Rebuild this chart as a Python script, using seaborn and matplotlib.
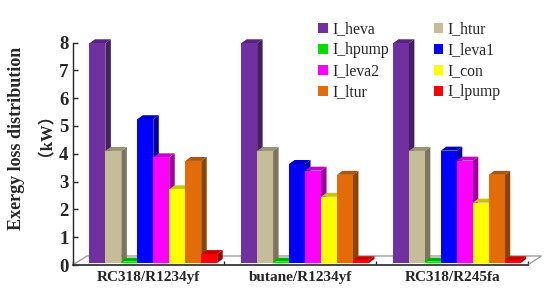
# plot.py
# exergy loss distribution, pseudo-3D grouped bars
import pandas as pd
import numpy as np
import matplotlib
matplotlib.use('Agg')
import matplotlib.pyplot as plt
import seaborn as sns
from matplotlib.patches import Polygon, Patch
from matplotlib.transforms import Affine2D, IdentityTransform

cases = ['RC318/R1234yf', 'butane/R1234yf', 'RC318/R245fa']
series = ['I_heva', 'I_htur', 'I_hpump', 'I_leva1', 'I_leva2', 'I_con', 'I_ltur', 'I_lpump']
colors = ['#7030A0', '#C4BD97', '#00E000', '#0000FF', '#FF00FF', '#FFFF00', '#E36C09', '#FF0000']

i_heva = [7.90, 7.90, 7.90]
i_htur = [4.03, 4.03, 4.03]
i_hpump = [0.05, 0.05, 0.05]
i_leva1 = [5.17, 3.56, 4.04]
i_leva2 = [3.80, 3.32, 3.68]
i_con = [2.65, 2.38, 2.17]
i_ltur = [3.67, 3.17, 3.17]
i_lpump = [0.32, 0.10, 0.10]

yticks = [0, 1, 2, 3, 4, 5, 6, 7, 8]

W, H = 550, 291
DX, DY = 5.5, 4.0   # depth of the bars, px

sns.set_style('white')
plt.rcParams['font.family'] = ['Liberation Serif', 'Noto Sans CJK SC']

rows = []
for name, vals in zip(series, [i_heva, i_htur, i_hpump, i_leva1, i_leva2, i_con, i_ltur, i_lpump]):
    for c, v in zip(cases, vals):
        rows.append({'case': c, 'series': name, 'value': v})
df = pd.DataFrame(rows)

fig = plt.figure(figsize=(W / 100, H / 100), dpi=100)
ax = fig.add_axes([72.7 / W, 1 - 265 / H, (528 - 72.7) / W, (265 - 42.5) / H])

sns.barplot(data=df, x='case', y='value', hue='series', order=cases, hue_order=series,
            palette=colors, saturation=1, width=128 / 152, gap=0, legend=False, ax=ax)

ax.set_xlim(-0.5, 2.5)
ax.set_ylim(0, 8)
ax.set_xlabel('')
ax.set_ylabel('')
fig.canvas.draw()


def shade(col, f):
    return tuple(np.array(matplotlib.colors.to_rgb(col)) * f)


# floor of the chart, behind the bars
floor = [(72.7, 265), (87, 256), (541.5, 256), (527.5, 265)]
ax.add_patch(Polygon([(x, H - y) for x, y in floor], closed=True, fill=False, edgecolor='#A0A0A0',
                     linewidth=1.0, transform=IdentityTransform(), clip_on=False, zorder=1))

# front faces are pushed off the axis plane, sides and tops are added from the bar geometry
shift = Affine2D().translate(4.7, 2.0)
bars = sorted([p for p in ax.patches if hasattr(p, 'get_width') and p.get_width() > 0],
              key=lambda p: p.get_x())
for i, p in enumerate(bars):
    col = p.get_facecolor()
    z = 3 + i * 0.01
    x0, y0 = ax.transData.transform((p.get_x(), 0)) + np.array([4.7, 2.0])
    x1, y1 = ax.transData.transform((p.get_x() + p.get_width(), p.get_height())) + np.array([4.7, 2.0])
    side = [(x1, y0), (x1 + DX, y0 + DY), (x1 + DX, y1 + DY), (x1, y1)]
    top = [(x0, y1), (x0 + DX, y1 + DY), (x1 + DX, y1 + DY), (x1, y1)]
    ax.add_patch(Polygon(side, closed=True, facecolor=shade(col, 0.62), edgecolor='none',
                         transform=IdentityTransform(), clip_on=False, zorder=z))
    ax.add_patch(Polygon(top, closed=True, facecolor=shade(col, 0.78), edgecolor='none',
                         transform=IdentityTransform(), clip_on=False, zorder=z))
    p.set_transform(ax.transData + shift)
    p.set_clip_on(False)
    p.set_edgecolor('none')
    p.set_zorder(z + 0.001)

for s in ['top', 'right']:
    ax.spines[s].set_visible(False)
ax.patch.set_visible(False)
ax.spines['left'].set_linewidth(1.0)
ax.spines['bottom'].set_linewidth(1.1)

ax.set_yticks(yticks)
ax.set_yticklabels([str(v) for v in yticks], fontsize=13.5, fontweight='bold')
ax.tick_params(axis='y', direction='in', length=3.5, width=1.0, pad=3, left=True)
ax.set_xticks([-0.5, 0.5, 1.5, 2.5])
ax.set_xticklabels([])
ax.tick_params(axis='x', which='major', direction='in', length=3, width=1.0, bottom=True)
ax.set_xticks([0, 1, 2], minor=True)
ax.set_xticklabels(cases, minor=True, fontsize=11, fontweight='bold')
ax.tick_params(axis='x', which='minor', length=0, pad=4.5)

fig.text(17 / W, 1 - 138 / H, 'Exergy loss distribution', rotation=90, ha='center', va='center',
         fontsize=13, fontweight='bold')
fig.text(38 / W, 1 - 126 / H, '（kW）', rotation=90, ha='center', va='center',
         fontsize=12, fontweight='bold')

# legend reads across the rows
handles = {n: Patch(facecolor=c, edgecolor='none') for n, c in zip(series, colors)}
order = ['I_heva', 'I_hpump', 'I_leva2', 'I_ltur', 'I_htur', 'I_leva1', 'I_con', 'I_lpump']
fig.legend([handles[n] for n in order], order, ncol=2, frameon=False, fontsize=11.3,
           loc='upper left', bbox_to_anchor=(315 / W, 1 - 18 / H), borderaxespad=0, borderpad=0.2,
           handlelength=0.6, handleheight=0.6, handletextpad=0.3, labelspacing=0.32, columnspacing=2.85)

fig.savefig('out.png', dpi=100)
